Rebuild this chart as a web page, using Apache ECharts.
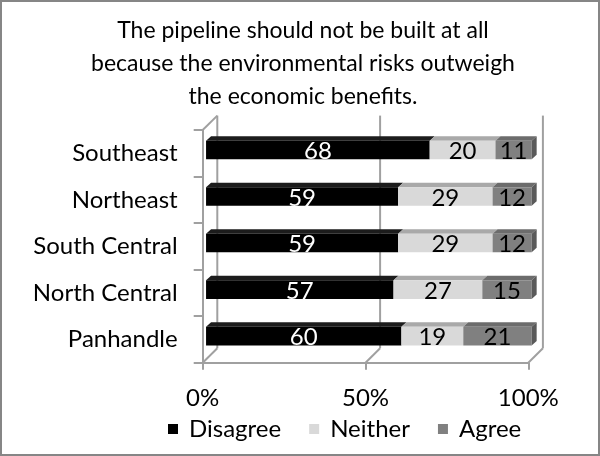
<!DOCTYPE html>
<html>
<head>
<meta charset="utf-8">
<script src="https://cdn.jsdelivr.net/npm/echarts@6/dist/echarts.min.js"></script>
<style>
  html, body { margin: 0; padding: 0; background: #fff; }
  #chart { width: 600px; height: 456px; }
</style>
</head>
<body>
<div id="chart"></div>
<script>
// Survey responses by region (raw counts per row)
const categories = ['Southeast', 'Northeast', 'South Central', 'North Central', 'Panhandle'];
const disagree = [68, 59, 59, 57, 60];
const neither  = [20, 29, 29, 27, 19];
const agree    = [11, 12, 12, 15, 21];
const seriesNames = ['Disagree', 'Neither', 'Agree'];
const xTicks = [0, 50, 100];

const FONT = 'Lato, "Noto Sans", sans-serif';
const FS = 24;

// 3D look: depth of the plot box and placement of the bars inside it
const DEPTH_X = 14.6, DEPTH_Y = -14.4;
const BAR_FRONT = 0.23;
const BAR_DX = 5, BAR_DY = -4.5;
const BAR_RATIO = 0.4;
const LINE = '#a0a0a0';

// 100% stacking: turn each row into cumulative shares
const rows = [disagree, neither, agree];
const totals = categories.map((_, i) => disagree[i] + neither[i] + agree[i]);
const stacked = rows.map((vals, s) => vals.map((v, i) => {
  let start = 0;
  for (let k = 0; k < s; k++) start += rows[k][i];
  return [i, start / totals[i] * 100, (start + v) / totals[i] * 100, v];
}));

const faces = [
  { front: '#000000', top: '#1c1c1c', side: '#111111', label: '#ffffff' },
  { front: '#d9d9d9', top: '#a9a9a9', side: '#bcbcbc', label: '#000000' },
  { front: '#808080', top: '#6c6c6c', side: '#5a5a5a', label: '#000000' }
];

function barRenderer(s) {
  const f = faces[s];
  const last = s === faces.length - 1;
  return function (params, api) {
    const cat = api.value(0);
    const p0 = api.coord([api.value(1), cat]);
    const p1 = api.coord([api.value(2), cat]);
    const band = api.size([0, 1])[1];
    const h = band * BAR_RATIO;
    const ox = DEPTH_X * BAR_FRONT, oy = DEPTH_Y * BAR_FRONT;
    const x0 = p0[0] + ox, x1 = p1[0] + ox;
    const yc = p0[1] + oy;
    const yT = yc - h / 2, yB = yc + h / 2;
    const children = [
      { type: 'polygon', shape: { points: [[x0, yT], [x1, yT], [x1 + BAR_DX, yT + BAR_DY], [x0 + BAR_DX, yT + BAR_DY]] },
        style: { fill: f.top } },
      { type: 'rect', shape: { x: x0, y: yT, width: x1 - x0, height: h }, style: { fill: f.front } }
    ];
    if (last) {
      children.push({ type: 'polygon',
        shape: { points: [[x1, yT], [x1 + BAR_DX, yT + BAR_DY], [x1 + BAR_DX, yB + BAR_DY], [x1, yB]] },
        style: { fill: f.side } });
    }
    children.push({ type: 'text', x: (x0 + x1) / 2, y: yc + 1.5,
      style: { text: String(api.value(3)), fill: f.label, font: FS + 'px ' + FONT,
               align: 'center', verticalAlign: 'middle' } });
    return { type: 'group', children };
  };
}

// Back wall gridlines, floor edges and the top edge of the side wall
function frameRenderer(params, api) {
  const v = api.value(0);
  const n = categories.length;
  const band = api.size([0, 1])[1];
  const top = api.coord([v, 0])[1] - band / 2;
  const bot = api.coord([v, n - 1])[1] + band / 2;
  const x = api.coord([v, 0])[0];
  const style = { stroke: LINE, lineWidth: 2, fill: null };
  const children = [
    { type: 'line', shape: { x1: x + DEPTH_X, y1: top + DEPTH_Y, x2: x + DEPTH_X, y2: bot + DEPTH_Y }, style },
    { type: 'line', shape: { x1: x, y1: bot, x2: x + DEPTH_X, y2: bot + DEPTH_Y }, style }
  ];
  if (params.dataIndex === 0) {
    children.push({ type: 'line', shape: { x1: x, y1: top, x2: x + DEPTH_X, y2: top + DEPTH_Y }, style });
  }
  return { type: 'group', children };
}

const series = [{
  type: 'custom', name: 'frame', silent: true, clip: false, z: 1,
  data: xTicks.map(v => [v, 0]), encode: { x: 0, y: 1 },
  renderItem: frameRenderer
}];
seriesNames.forEach((name, s) => {
  series.push({
    type: 'custom', name, clip: false, z: 2 + s,
    itemStyle: { color: faces[s].front },
    data: stacked[s], encode: { x: [1, 2], y: 0 },
    renderItem: barRenderer(s)
  });
});

const chart = echarts.init(document.getElementById('chart'), null, { renderer: 'canvas' });
chart.setOption({
  animation: false,
  backgroundColor: '#ffffff',
  title: {
    text: 'The pipeline should not be built at all\nbecause the environmental risks outweigh\nthe economic benefits.',
    left: 298, top: 9, textAlign: 'center',
    textStyle: { fontFamily: FONT, fontSize: 23, fontWeight: 'normal', color: '#000', lineHeight: 33, align: 'center' }
  },
  legend: {
    data: seriesNames.map(n => ({ name: n, icon: 'rect' })),
    left: 163, top: 412,
    itemWidth: 10, itemHeight: 10, itemGap: 28,
    textStyle: { fontFamily: FONT, fontSize: FS, color: '#000', padding: [0, 0, 0, 6] }
  },
  grid: { left: 202.7, top: 130, width: 325.6, height: 232.7 },
  xAxis: {
    type: 'value', min: 0, max: 100, interval: 50,
    axisLine: { show: true, lineStyle: { color: LINE, width: 2 } },
    axisTick: { show: true, length: 7, lineStyle: { color: LINE, width: 2 } },
    splitLine: { show: false },
    axisLabel: { formatter: '{value}%', margin: 24, fontFamily: FONT, fontSize: FS, color: '#000' }
  },
  yAxis: {
    type: 'category', data: categories, inverse: true,
    axisLine: { show: true, lineStyle: { color: LINE, width: 2 } },
    axisTick: { show: true, length: 9, lineStyle: { color: LINE, width: 2 } },
    axisLabel: { margin: 25, fontFamily: FONT, fontSize: FS, color: '#000' }
  },
  graphic: [{
    type: 'rect', silent: true, z: 100,
    shape: { x: 1, y: 1, width: 598, height: 454 },
    style: { fill: null, stroke: '#868686', lineWidth: 2 }
  }],
  series
});
</script>
</body>
</html>
